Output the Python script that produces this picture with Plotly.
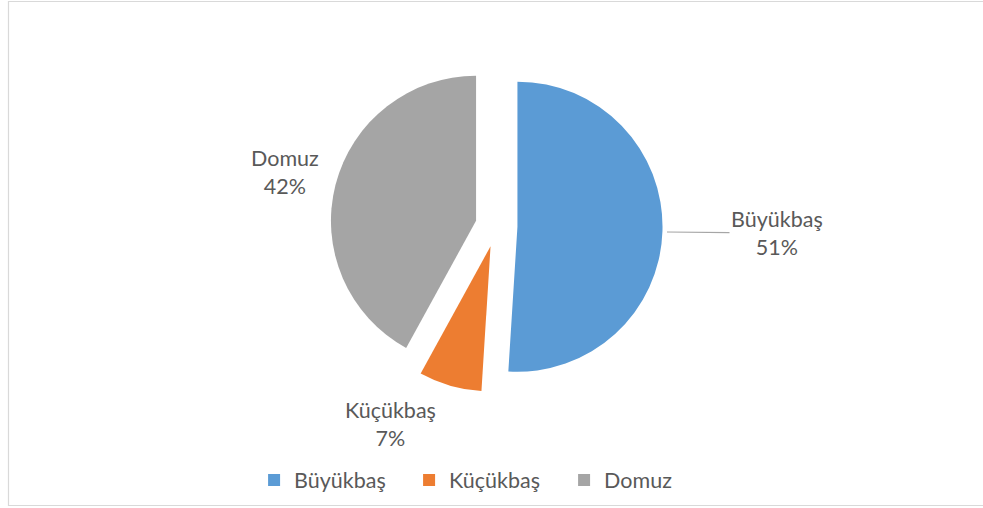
import plotly.graph_objects as go

labels = ["Büyükbaş", "Küçükbaş", "Domuz"]
values = [51, 7, 42]
colors = ["#5b9bd5", "#ed7d31", "#a5a5a5"]
pulls = [0.145, 0.145, 0.145]

W, H = 983, 508
fig = go.Figure()
fig.add_trace(go.Pie(
    labels=labels, values=values, sort=False, direction="clockwise", rotation=0,
    pull=pulls, marker=dict(colors=colors, line=dict(width=0)),
    textinfo="none", hoverinfo="label+percent",
    domain=dict(x=[0.30, 0.71], y=[0.228, 0.882]),
))

total = sum(values)
pct = [f"{round(100 * v / total)}%" for v in values]
font = dict(family="Lato, Open Sans, sans-serif", size=21.5, color="#595959")

# label placements (paper coords, pixel-derived)
fig.add_annotation(x=667 / W, y=1 - 232 / H, xref="paper", yref="paper",
                   text=f"{labels[0]}<br>{pct[0]}", showarrow=True, arrowhead=0,
                   arrowwidth=1.2, arrowcolor="#a6a6a6", ax=110, ay=1,
                   standoff=0, font=font, align="center")
fig.add_annotation(x=390 / W, y=1 - 424 / H, xref="paper", yref="paper",
                   xanchor="center", yanchor="middle",
                   text=f"{labels[1]}<br>{pct[1]}", showarrow=False, font=font, align="center")
fig.add_annotation(x=285 / W, y=1 - 172 / H, xref="paper", yref="paper",
                   xanchor="center", yanchor="middle",
                   text=f"{labels[2]}<br>{pct[2]}", showarrow=False, font=font, align="center")

fig.add_shape(type="rect", xref="paper", yref="paper",
              x0=8.5 / W, x1=1.01, y0=1 - 505.5 / H, y1=1 - 1.5 / H,
              line=dict(color="#d9d9d9", width=1.2), fillcolor="rgba(0,0,0,0)")

fig.update_layout(
    width=W, height=H, margin=dict(l=0, r=0, t=0, b=0),
    paper_bgcolor="white", plot_bgcolor="white",
    showlegend=True,
    legend=dict(orientation="h", x=0.495, xanchor="center", y=1 - 480 / H, yanchor="middle",
                font=font, entrywidth=110, itemclick=False, traceorder="normal"),
)
fig.write_html("out.html", post_script="document.body.style.margin='0';",
               config={"displayModeBar": False})
